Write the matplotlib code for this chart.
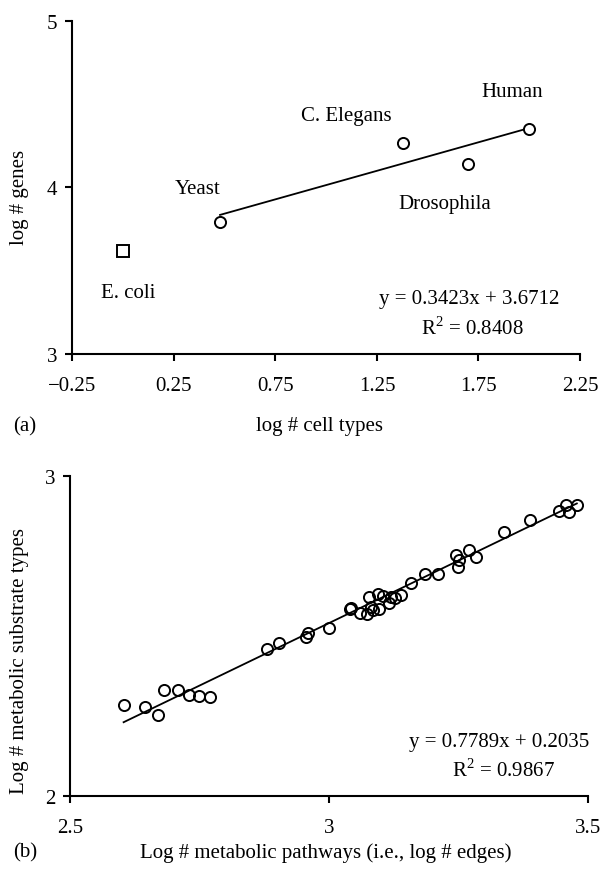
import numpy as np
import matplotlib
matplotlib.use("Agg")
import matplotlib.pyplot as plt

plt.rcParams['font.family'] = ['Liberation Serif', 'DejaVu Serif']
plt.rcParams['mathtext.fontset'] = 'custom'
plt.rcParams['mathtext.rm'] = 'Liberation Serif'
plt.rcParams['font.size'] = 15

# ---- panel (a): genes vs cell types ----
organisms = ["Yeast", "C. Elegans", "Drosophila", "Human"]
cell_types = [0.477, 1.380, 1.699, 2.000]
genes = [3.794, 4.265, 4.140, 4.349]
ecoli_x = [0.0]
ecoli_y = [3.617]
fit_a = (0.3423, 3.6712)
label_a_x = [0.365, 1.098, 1.583, 1.915]
label_a_y = [3.994, 4.433, 3.904, 4.573]

# ---- panel (b): substrates vs pathways ----
pathways = [2.603, 2.644, 2.670, 2.682, 2.708, 2.730, 2.748, 2.770,
            2.881, 2.903, 2.956, 2.959, 3.000, 3.041, 3.042, 3.060,
            3.074, 3.077, 3.082, 3.085, 3.095, 3.097, 3.104, 3.115,
            3.119, 3.127, 3.139, 3.159, 3.185, 3.211, 3.245, 3.252,
            3.249, 3.270, 3.285, 3.338, 3.389, 3.444, 3.458, 3.463, 3.479]
substrates = [2.284, 2.277, 2.252, 2.330, 2.330, 2.316, 2.312, 2.309,
              2.460, 2.479, 2.496, 2.508, 2.525, 2.584, 2.588, 2.573,
              2.568, 2.623, 2.590, 2.582, 2.630, 2.584, 2.625, 2.604,
              2.623, 2.619, 2.629, 2.664, 2.694, 2.694, 2.754, 2.737,
              2.715, 2.767, 2.747, 2.825, 2.861, 2.890, 2.909, 2.888, 2.909]
fit_b = (0.7789, 0.2035)

fig = plt.figure(figsize=(6, 8.7), dpi=100)


def style_axes(ax):
    for s in ['top', 'right']:
        ax.spines[s].set_visible(False)
    for s in ['left', 'bottom']:
        ax.spines[s].set_linewidth(1.5)
        ax.spines[s].set_color('black')
    ax.tick_params(axis='both', direction='out', width=1.5, length=5,
                   labelsize=15, colors='black')
    ax.tick_params(axis='x', pad=11)
    ax.tick_params(axis='y', pad=6)


# (a)
ax1 = fig.add_axes([0.1208, 0.5920, 0.8458, 0.3831])
style_axes(ax1)
ax1.set_xlim(-0.25, 2.25)
ax1.set_ylim(3, 5)
ax1.set_xticks([-0.25, 0.25, 0.75, 1.25, 1.75, 2.25])
ax1.set_xticklabels(["\u22120.25", "0.25", "0.75", "1.25", "1.75", "2.25"])
ax1.set_yticks([3, 4, 5])
ax1.set_yticklabels(["3", "4", "5"])

xa = np.array([min(cell_types), max(cell_types)])
ax1.plot(xa, fit_a[0] * xa + fit_a[1], color='black', lw=1.3, zorder=2)
ax1.plot(cell_types, genes, 'o', ms=8, mfc='white', mec='black', mew=1.4, zorder=3)
ax1.plot(ecoli_x, ecoli_y, 's', ms=8, mfc='white', mec='black', mew=1.4, zorder=3)

for name, lx, ly in zip(organisms, label_a_x, label_a_y):
    ax1.text(lx, ly, name, ha='center', va='center', fontsize=15)
ax1.text(0.026, 3.371, "E. coli", ha='center', va='center', fontsize=15)
ax1.text(1.705, 3.331, "y = 0.3423x + 3.6712", ha='center', va='center', fontsize=15)
ax1.text(1.722, 3.156, r"R$^{2}$ = 0.8408", ha='center', va='center', fontsize=15)

ax1.set_xlabel("log # cell types", fontsize=15)
ax1.xaxis.set_label_coords((320 - 72.5) / 507.5, (355 - 427) / 333.3)
ax1.xaxis.label.set_va('center')
ax1.set_ylabel("log # genes", fontsize=15, va='center')
ax1.yaxis.set_label_coords((19.8 - 72.5) / 507.5, (355 - 197) / 333.3)
fig.text(24.9 / 600, 1 - 427.3 / 870, "(a)", ha='center', va='center', fontsize=15)

# (b)
ax2 = fig.add_axes([0.1172, 0.0836, 0.8623, 0.3685])
style_axes(ax2)
ax2.set_xlim(2.5, 3.5)
ax2.set_ylim(2, 3)
ax2.set_xticks([2.5, 3, 3.5])
ax2.set_xticklabels(["2.5", "3", "3.5"])
ax2.set_yticks([2, 3])
ax2.set_yticklabels(["2", "3"])

xb = np.array([min(pathways), max(pathways)])
ax2.plot(xb, fit_b[0] * xb + fit_b[1], color='black', lw=1.3, zorder=2)
ax2.plot(pathways, substrates, 'o', ms=8, mfc='none', mec='black', mew=1.4, zorder=3)

ax2.text(3.328, 2.170, "y = 0.7789x + 0.2035", ha='center', va='center', fontsize=15)
ax2.text(3.337, 2.083, r"R$^{2}$ = 0.9867", ha='center', va='center', fontsize=15)

ax2.set_xlabel("Log # metabolic pathways (i.e., log # edges)", fontsize=15)
ax2.xaxis.set_label_coords((325.3 - 70.3) / 517.4, (797.3 - 852.7) / 320.6)
ax2.xaxis.label.set_va('center')
ax2.set_ylabel("Log # metabolic substrate types", fontsize=15, va='center')
ax2.yaxis.set_label_coords((19.3 - 70.3) / 517.4, (797.3 - 661) / 320.6)
fig.text(24.9 / 600, 1 - 852.7 / 870, "(b)", ha='center', va='center', fontsize=15)

fig.savefig("out.png", dpi=100)
